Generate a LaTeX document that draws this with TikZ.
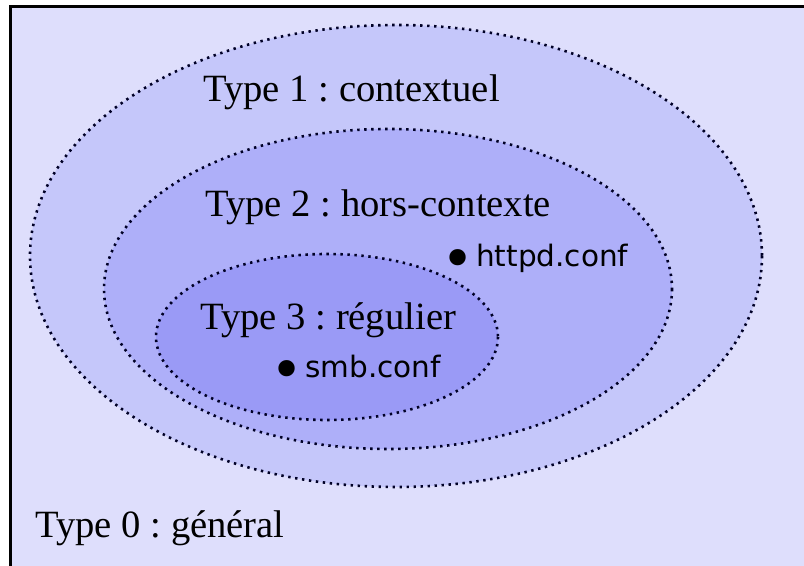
\documentclass[tikz,border=0pt]{standalone}
\usepackage{fontspec}
\usepackage{graphicx}
\setmainfont{Liberation Serif}
\newfontfamily\sansfont{DejaVu Sans}
\newcommand\filedot{\makebox[8.7pt]{\raisebox{-6pt}{\scalebox{1.9}{•}}}}
\definecolor{bgfill}{HTML}{DEDEFC}
\definecolor{typeone}{HTML}{C5C7FA}
\definecolor{typetwo}{HTML}{AEAFF9}
\definecolor{typethree}{HTML}{9A9AF6}
\begin{document}
\frenchspacing
\begin{tikzpicture}[x=0.5pt,y=-0.5pt,
    zone/.style={draw=black!85!blue, line width=1.3pt, dash pattern=on 1.2pt off 2.3pt},
    typelabel/.style={anchor=base west, inner sep=0pt, font=\fontsize{19.3}{22}\selectfont},
    filelabel/.style={anchor=base west, inner sep=0pt, font=\sansfont\fontsize{14.75}{17}\selectfont}]
  \clip (0,0) rectangle (804,566);
  \fill[white] (0,0) rectangle (804,566);
  \draw[fill=bgfill, line width=1.5pt] (10,7) rectangle (830,590);
  % nested languages
  \draw[zone, fill=typeone] (396,256) ellipse [x radius=366, y radius=231];
  \draw[zone, fill=typetwo] (388,289) ellipse [x radius=284, y radius=160];
  \draw[zone, fill=typethree] (327,337) ellipse [x radius=171, y radius=83];
  \node[typelabel] (t1) at (203,102) {Type 1 : contextuel};
  \node[typelabel] (t2) at (205,217) {Type 2 : hors-contexte};
  \node[typelabel] (t3) at (200,330) {Type 3 : régulier};
  \node[typelabel] (t0) at (35,538) {Type 0 : général};
  \node[filelabel] (httpd) at (449,267) {\filedot\ httpd.conf};
  \node[filelabel] (smb) at (278,378) {\filedot\ smb.conf};
\end{tikzpicture}
\end{document}
